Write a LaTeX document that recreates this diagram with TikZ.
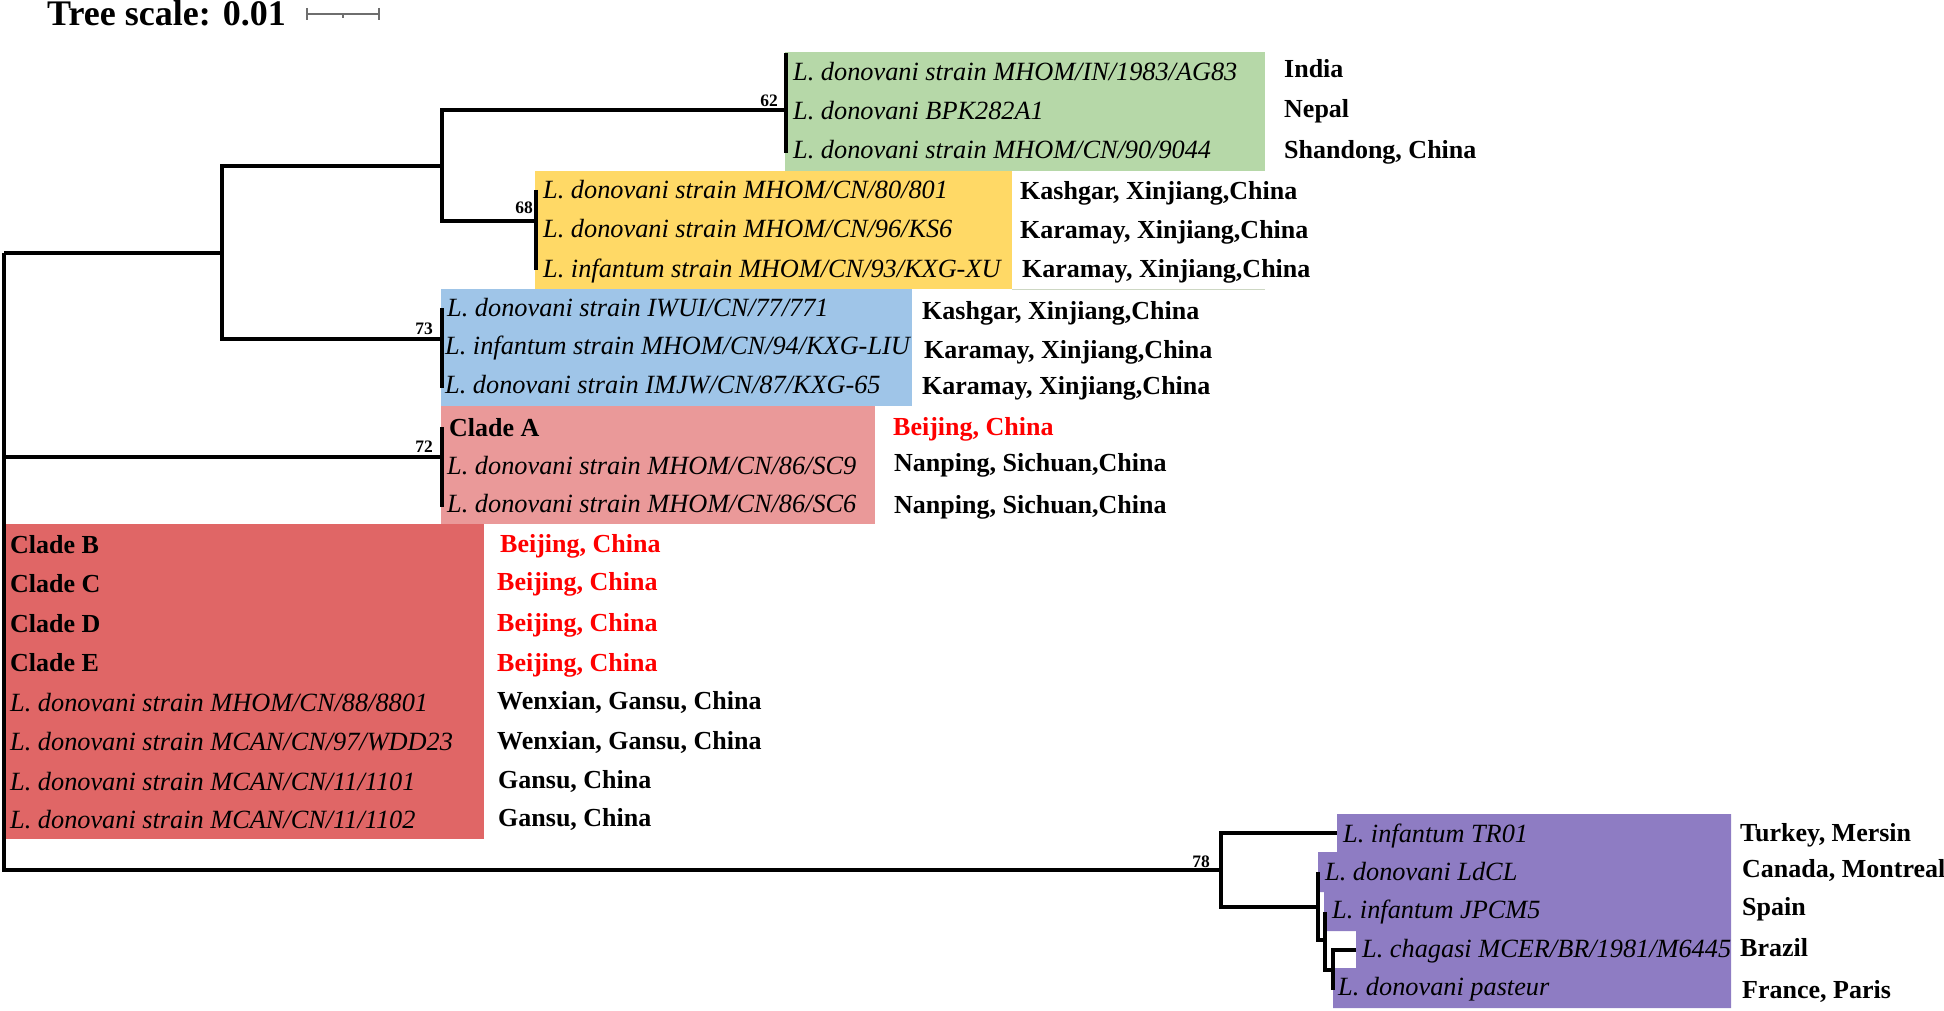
\documentclass[tikz,border=0pt]{standalone}
\usepackage{fontspec}
\setmainfont{Liberation Serif}
\definecolor{cgreen}{RGB}{182,216,168}
\definecolor{cyellow}{RGB}{255,217,102}
\definecolor{cblue}{RGB}{159,197,232}
\definecolor{cpink}{RGB}{234,153,153}
\definecolor{cred}{RGB}{224,102,102}
\definecolor{cpurple}{RGB}{142,124,195}
\definecolor{cthin}{RGB}{205,215,195}
\definecolor{cscale}{RGB}{110,110,110}
\begin{document}
\begin{tikzpicture}[x=1pt,y=-1pt,
  leaf/.style={anchor=base west,inner sep=0pt,font=\fontsize{26.3}{30}\selectfont\itshape},
  loc/.style={anchor=base west,inner sep=0pt,font=\fontsize{26}{30}\selectfont\bfseries},
  redloc/.style={loc,text=red},
  clade/.style={anchor=base west,inner sep=0pt,font=\fontsize{26}{30}\selectfont\bfseries},
  boot/.style={anchor=base east,inner sep=0pt,font=\fontsize{17.5}{20}\selectfont\bfseries},
  branch/.style={line width=3.2pt},
  scalebar/.style={draw=cscale,line width=1.6pt}]
\useasboundingbox (0,0) rectangle (1944,1011);
% ---------- clade backgrounds ----------
\fill[cgreen] (785,52) rectangle (1265,171);
\fill[cyellow] (535,171) rectangle (1012,289);
\draw[cthin,line width=1.2pt] (1012,289.5) -- (1265,289.5);
\fill[cblue] (441,289) rectangle (912,406);
\fill[cpink] (441,406) rectangle (875,524);
\fill[cred] (6,524) rectangle (484,839);
\fill[cpurple] (1337,814) -- (1731,814) -- (1731,1008) -- (1333,1008) -- (1333,968)
  -- (1356,968) -- (1356,931) -- (1324,931) -- (1324,892) -- (1318,892) -- (1318,852)
  -- (1337,852) -- cycle;
% ---------- scale ----------
\node[anchor=base west,inner sep=0pt,font=\fontsize{36}{40}\selectfont\bfseries] (title) at (47,26) {Tree scale: 0.01};
\coordinate (sa) at (307,14);
\coordinate (sb) at (379,14);
\coordinate (sm) at (343,14);
\draw[scalebar] (sa) -- (sb);
\draw[scalebar] ([yshift=6pt]sa) -- ([yshift=-6pt]sa);
\draw[scalebar] ([yshift=6pt]sb) -- ([yshift=-6pt]sb);
\draw[scalebar] (sm) -- ([yshift=-4pt]sm);
% ---------- tree nodes ----------
\coordinate (root) at (4,253);
\coordinate (n1) at (222,253);
\coordinate (n2) at (442,166);
\coordinate (ng) at (786,110);
\coordinate (ngt) at (786,53);
\coordinate (ngb) at (786,153);
\coordinate (ny) at (536,221);
\coordinate (nyt) at (536,190);
\coordinate (nyb) at (536,270);
\coordinate (nb) at (442,339);
\coordinate (nbt) at (442,308);
\coordinate (nbb) at (442,388);
\coordinate (np) at (442,457);
\coordinate (npt) at (442,427);
\coordinate (npb) at (442,507);
\coordinate (nq) at (1221,870);
\coordinate (ltr) at (1337,833);
\coordinate (m1) at (1318,907);
\coordinate (lld) at (1318,872);
\coordinate (m2) at (1325,940);
\coordinate (ljp) at (1325,912);
\coordinate (m3) at (1333,970);
\coordinate (lch) at (1356,950);
\coordinate (lpa) at (1333,990);
% ---------- branches ----------
\draw[branch] (root) |- (n1);
\draw[branch] (root) |- (np);
\draw[branch] (root) |- (nq);
\draw[branch] (n1) |- (n2);
\draw[branch] (n1) |- (nb);
\draw[branch] (n2) |- (ng);
\draw[branch] (n2) |- (ny);
\draw[branch] (ngt) -- (ngb);
\draw[branch] (nyt) -- (nyb);
\draw[branch] (nbt) -- (nbb);
\draw[branch] (npt) -- (npb);
\draw[branch] (nq) |- (ltr);
\draw[branch] (nq) |- (m1);
\draw[branch] (m1) |- (lld);
\draw[branch] (m1) |- (m2);
\draw[branch] (m2) |- (ljp);
\draw[branch] (m2) |- (m3);
\draw[branch] (m3) |- (lch);
\draw[branch] (m3) |- (lpa);
% ---------- bootstrap values ----------
\node[boot] (b62) at (778,107) {62};
\node[boot] (b68) at (533,214) {68};
\node[boot] (b73) at (433,334) {73};
\node[boot] (b72) at (433,452) {72};
\node[boot] (b78) at (1210,867) {78};
% ---------- leaf labels ----------
\node[leaf] (g1) at (793,81) {L. donovani strain MHOM/IN/1983/AG83};
\node[leaf] (g2) at (793,120) {L. donovani BPK282A1};
\node[leaf] (g3) at (793,159) {L. donovani strain MHOM/CN/90/9044};
\node[leaf] (y1) at (543,199) {L. donovani strain MHOM/CN/80/801};
\node[leaf] (y2) at (543,237) {L. donovani strain MHOM/CN/96/KS6};
\node[leaf] (y3) at (543,277) {L. infantum strain MHOM/CN/93/KXG-XU};
\node[leaf] (bl1) at (447,316) {L. donovani strain IWUI/CN/77/771};
\node[leaf] (bl2) at (445,354) {L. infantum strain MHOM/CN/94/KXG-LIU};
\node[leaf] (bl3) at (445,393) {L. donovani strain IMJW/CN/87/KXG-65};
\node[clade] (pa) at (449,436) {Clade A};
\node[leaf] (p2) at (447,474) {L. donovani strain MHOM/CN/86/SC9};
\node[leaf] (p3) at (447,512) {L. donovani strain MHOM/CN/86/SC6};
\node[clade] (rb) at (10,553) {Clade B};
\node[clade] (rc) at (10,592) {Clade C};
\node[clade] (rd) at (10,632) {Clade D};
\node[clade] (re) at (10,671) {Clade E};
\node[leaf] (r5) at (10,711) {L. donovani strain MHOM/CN/88/8801};
\node[leaf] (r6) at (10,750) {L. donovani strain MCAN/CN/97/WDD23};
\node[leaf] (r7) at (10,790) {L. donovani strain MCAN/CN/11/1101};
\node[leaf] (r8) at (10,828) {L. donovani strain MCAN/CN/11/1102};
\node[leaf] (u1) at (1343,842) {L. infantum TR01};
\node[leaf] (u2) at (1325,880) {L. donovani LdCL};
\node[leaf] (u3) at (1332,918) {L. infantum JPCM5};
\node[leaf] (u4) at (1362,957) {L. chagasi MCER/BR/1981/M6445};
\node[leaf] (u5) at (1338,995) {L. donovani pasteur};
% ---------- locations ----------
\node[loc] (lg1) at (1284,78) {India};
\node[loc] (lg2) at (1284,118) {Nepal};
\node[loc] (lg3) at (1284,159) {Shandong, China};
\node[loc] (ly1) at (1020,200) {Kashgar, Xinjiang,China};
\node[loc] (ly2) at (1020,239) {Karamay, Xinjiang,China};
\node[loc] (ly3) at (1022,277) {Karamay, Xinjiang,China};
\node[loc] (lb1) at (922,319) {Kashgar, Xinjiang,China};
\node[loc] (lb2) at (924,358) {Karamay, Xinjiang,China};
\node[loc] (lb3) at (922,394) {Karamay, Xinjiang,China};
\node[redloc] (lp1) at (893,435) {Beijing, China};
\node[loc] (lp2) at (894,471) {Nanping, Sichuan,China};
\node[loc] (lp3) at (894,513) {Nanping, Sichuan,China};
\node[redloc] (lr1) at (500,552) {Beijing, China};
\node[redloc] (lr2) at (497,590) {Beijing, China};
\node[redloc] (lr3) at (497,631) {Beijing, China};
\node[redloc] (lr4) at (497,671) {Beijing, China};
\node[loc] (lr5) at (497,709) {Wenxian, Gansu, China};
\node[loc] (lr6) at (497,749) {Wenxian, Gansu, China};
\node[loc] (lr7) at (498,788) {Gansu, China};
\node[loc] (lr8) at (498,826) {Gansu, China};
\node[loc] (lu1) at (1740,841) {Turkey, Mersin};
\node[loc] (lu2) at (1742,877) {Canada, Montreal};
\node[loc] (lu3) at (1742,915) {Spain};
\node[loc] (lu4) at (1740,956) {Brazil};
\node[loc] (lu5) at (1742,998) {France, Paris};
\end{tikzpicture}
\end{document}
